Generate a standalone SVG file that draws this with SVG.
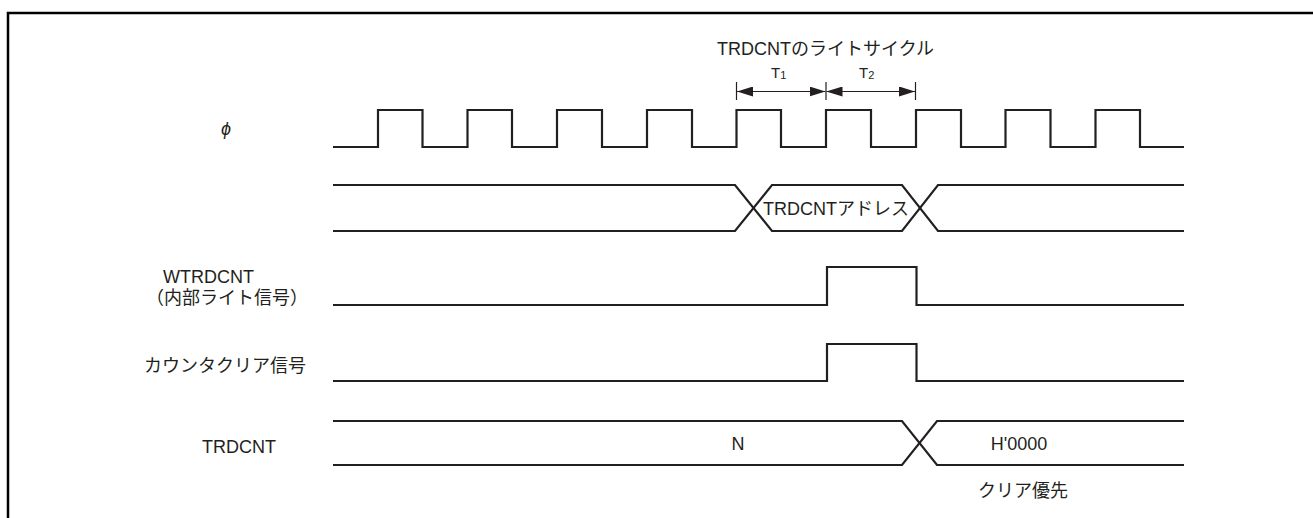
<svg xmlns="http://www.w3.org/2000/svg" width="1313" height="518" viewBox="0 0 1313 518">
<style>
.sig{fill:none;stroke:#231f20;stroke-width:2.2;stroke-linejoin:miter;stroke-linecap:butt}
.dim{fill:none;stroke:#231f20;stroke-width:1.2}
.t{font-family:"Liberation Sans","Noto Sans CJK JP",sans-serif;font-size:18px;fill:#231f20}
.s{font-family:"Liberation Sans","Noto Sans CJK JP",sans-serif;font-size:15px;fill:#231f20}
.sub{font-family:"Liberation Sans",sans-serif;font-size:11px;fill:#231f20}
</style>
<defs>
<marker id="ah" viewBox="0 0 16 10" refX="16" refY="5" markerWidth="16" markerHeight="10" markerUnits="userSpaceOnUse" orient="auto-start-reverse">
<path d="M0,0 L16,5 L0,10 Z" fill="#231f20"/>
</marker>
</defs>
<rect width="1313" height="518" fill="#ffffff"/>
<path d="M8,518 V13 H1313" fill="none" stroke="#000" stroke-width="2.5"/>

<g id="labels">
<text class="t" x="226" y="135" text-anchor="middle" font-style="italic">ϕ</text>
<text class="t" x="163" y="283">WTRDCNT</text>
<text class="t" x="146" y="304">（内部ライト信号）</text>
<text class="t" x="144" y="372">カウンタクリア信号</text>
<text class="t" x="202" y="453">TRDCNT</text>
</g>

<g id="write-cycle">
<text class="t" x="717" y="55">TRDCNTのライトサイクル</text>
<text class="s" x="771" y="78">T<tspan class="sub" dy="1">1</tspan></text>
<text class="s" x="859" y="78">T<tspan class="sub" dy="1">2</tspan></text>
</g>

<g id="connectors">
<line class="dim" x1="736.5" y1="82" x2="736.5" y2="100"/>
<line class="dim" x1="826" y1="82" x2="826" y2="100"/>
<line class="dim" x1="915.5" y1="82" x2="915.5" y2="100"/>
<line class="dim" x1="737" y1="91.5" x2="825.5" y2="91.5" marker-start="url(#ah)" marker-end="url(#ah)"/>
<line class="dim" x1="826.5" y1="91.5" x2="915" y2="91.5" marker-start="url(#ah)" marker-end="url(#ah)"/>
</g>

<g id="phi">
<path class="sig" d="M333,147 H378 V110 H422.5 V147 H467.5 V110 H512 V147 H557 V110 H602 V147 H647 V110 H692 V147 H736.5 V110 H781 V147 H826 V110 H871 V147 H916 V110 H961 V147 H1005.5 V110 H1050.5 V147 H1095.5 V110 H1140 V147 H1184"/>
</g>

<g id="address">
<path class="sig" d="M333,185 H735 L772,231 H902 L938,185 H1184"/>
<path class="sig" d="M333,231 H735 L772,185 H902 L938,231 H1184"/>
<text class="t" x="763" y="215">TRDCNTアドレス</text>
</g>

<g id="wtrdcnt">
<path class="sig" d="M333,305 H827 V267 H916.5 V305 H1184"/>
</g>

<g id="counter-clear">
<path class="sig" d="M333,381 H827 V344 H916.5 V381 H1184"/>
</g>

<g id="trdcnt">
<path class="sig" d="M333,421 H902 L937,465 H1184"/>
<path class="sig" d="M333,465 H902 L937,421 H1184"/>
<text class="t" x="738" y="450" text-anchor="middle">N</text>
<text class="t" x="1019" y="450" text-anchor="middle">H'0000</text>
<text class="t" x="1023" y="497" text-anchor="middle">クリア優先</text>
</g>
</svg>
